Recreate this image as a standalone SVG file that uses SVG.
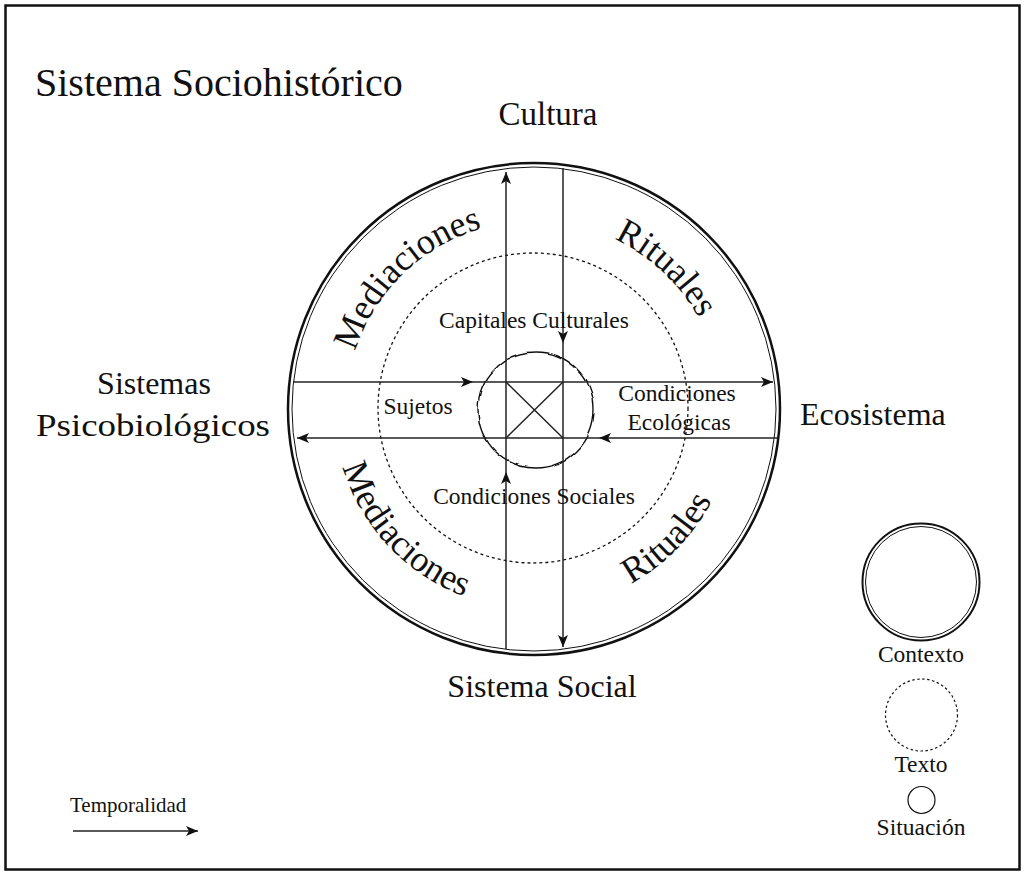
<svg xmlns="http://www.w3.org/2000/svg" width="1025" height="874" viewBox="0 0 1025 874">
<style>
text{font-family:"Liberation Serif","Times New Roman",serif;fill:#111}
.big{font-size:32px}
.sm{font-size:23.5px}
.arc{font-size:36px}
.ln{stroke:#222;stroke-width:1.5;fill:none}
.c{fill:none;stroke:#111}
</style>
<defs>
<marker id="ah" markerUnits="userSpaceOnUse" markerWidth="13" markerHeight="11" refX="12" refY="5" orient="auto" overflow="visible">
<path d="M0,0 L12,5 L0,10 L3,5 z" fill="#111"/>
</marker>
<filter id="wob" x="-20%" y="-20%" width="140%" height="140%">
<feTurbulence type="fractalNoise" baseFrequency="0.06" numOctaves="2" seed="4" result="n"/>
<feDisplacementMap in="SourceGraphic" in2="n" scale="4.5" xChannelSelector="R" yChannelSelector="G"/>
</filter>
<path id="pUL" d="M346,409 A188,188 0 0 1 534,221"/>
<path id="pUR" d="M534,221 A188,188 0 0 1 722,409"/>
<path id="pLL" d="M334,409 A200,200 0 0 0 534,609"/>
<path id="pLR" d="M534,609 A200,200 0 0 0 734,409"/>
</defs>
<rect id="frame" x="5.5" y="5.5" width="1014" height="864" fill="#fff" stroke="#111" stroke-width="2.5"/>
<text id="title" x="35" y="96" style="font-size:40px">Sistema Sociohistórico</text>
<g id="contexto">
<circle class="c" cx="534" cy="409" r="246" stroke-width="2.5"/>
<circle class="c" cx="534" cy="409" r="242" stroke-width="1"/>
</g>
<g id="texto">
<circle class="c" cx="533" cy="408" r="155" stroke-width="1.3" stroke-dasharray="3 3"/>
</g>
<g id="situacion">
<circle class="c" cx="536" cy="410" r="58" stroke-width="1.4" filter="url(#wob)"/>
</g>
<g id="connectors">
<path class="ln" d="M293,382 L473,382 L773,382" marker-mid="url(#ah)" marker-end="url(#ah)"/>
<path class="ln" d="M777,438 L599,438 L297,438" marker-mid="url(#ah)" marker-end="url(#ah)"/>
<path class="ln" d="M506,649 L506,472 L506,172" marker-mid="url(#ah)" marker-end="url(#ah)"/>
<path class="ln" d="M563,168 L563,343 L563,647" marker-mid="url(#ah)" marker-end="url(#ah)"/>
<path class="ln" d="M506,382 L563,438 M563,382 L506,438"/>
</g>
<g id="labels-outer">
<text class="big" x="548" y="125" text-anchor="middle" style="font-size:33px">Cultura</text>
<text class="big" x="154" y="394" text-anchor="middle">Sistemas</text>
<text class="big" x="153" y="436" text-anchor="middle" textLength="234" lengthAdjust="spacingAndGlyphs">Psicobiológicos</text>
<text class="big" x="800" y="425">Ecosistema</text>
<text class="big" x="542" y="697" text-anchor="middle">Sistema Social</text>
</g>
<g id="labels-inner">
<text class="sm" x="534" y="328" text-anchor="middle">Capitales Culturales</text>
<text class="sm" x="418" y="414" text-anchor="middle">Sujetos</text>
<text class="sm" x="677" y="401" text-anchor="middle">Condiciones</text>
<text class="sm" x="679" y="430" text-anchor="middle">Ecológicas</text>
<text class="sm" x="534" y="504" text-anchor="middle">Condiciones Sociales</text>
</g>
<g id="labels-arc">
<text class="arc"><textPath href="#pUL" startOffset="51%" text-anchor="middle">Mediaciones</textPath></text>
<text class="arc"><textPath href="#pUR" startOffset="48%" text-anchor="middle">Rituales</textPath></text>
<text class="arc"><textPath href="#pLL" startOffset="48%" text-anchor="middle">Mediaciones</textPath></text>
<text class="arc"><textPath href="#pLR" startOffset="51%" text-anchor="middle">Rituales</textPath></text>
</g>
<g id="legend">
<g id="leg-contexto">
<circle class="c" cx="921" cy="582" r="58.5" stroke-width="2"/>
<circle class="c" cx="921" cy="582" r="55.5" stroke-width="1"/>
<text class="sm" x="921" y="662" text-anchor="middle">Contexto</text>
</g>
<g id="leg-texto">
<circle class="c" cx="921.5" cy="715" r="36" stroke-width="1.2" stroke-dasharray="2.5 2.5"/>
<text class="sm" x="921" y="772" text-anchor="middle">Texto</text>
</g>
<g id="leg-situacion">
<circle class="c" cx="921.5" cy="800" r="13.5" stroke-width="1.2"/>
<text class="sm" x="921" y="835" text-anchor="middle">Situación</text>
</g>
<g id="leg-temporalidad">
<text x="70" y="812" style="font-size:21px">Temporalidad</text>
<path class="ln" d="M73,831 L198,831" marker-end="url(#ah)"/>
</g>
</g>
</svg>
